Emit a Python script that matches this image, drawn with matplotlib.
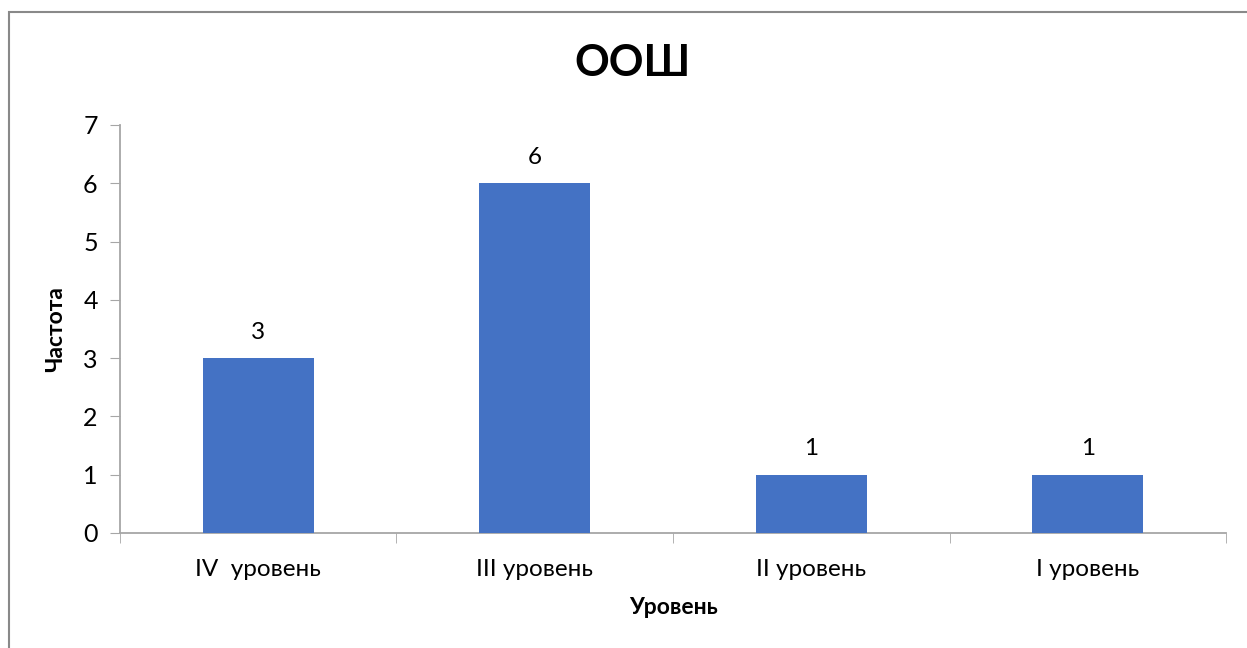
import matplotlib.pyplot as plt
import matplotlib.patches as mpatches
import numpy as np

# данные с диаграммы
levels = ['IV  уровень', 'III уровень', 'II уровень', 'I уровень']
counts = [3, 6, 1, 1]
y_ticks = [0, 1, 2, 3, 4, 5, 6, 7]

plt.rcParams['font.family'] = ['Lato', 'DejaVu Sans']

fig = plt.figure(figsize=(12.47, 6.48), dpi=100)
ax = fig.add_axes([0.0962, 0.1775, 0.887, 0.6296])

x = np.arange(len(levels))
bars = ax.bar(x, counts, width=0.4, color='#4472C4', zorder=3)

ax.set_xlim(-0.5, len(levels) - 0.5)
ax.set_ylim(0, 7)
ax.set_yticks(y_ticks)
ax.tick_params(axis='y', labelsize=18, length=7, color='#A6A6A6', pad=9)

# подписи категорий по центру, засечки между категориями
ax.set_xticks(x)
ax.set_xticklabels(levels, fontsize=17.5)
ax.tick_params(axis='x', length=0, pad=19)
ax.set_xticks(np.arange(-0.5, len(levels)), minor=True)
ax.tick_params(axis='x', which='minor', length=7, color='#A6A6A6')

for side in ['top', 'right']:
    ax.spines[side].set_visible(False)
ax.spines['left'].set_color('#A6A6A6')
ax.spines['bottom'].set_color('#A6A6A6')
ax.spines['left'].set_linewidth(1.3)
ax.spines['bottom'].set_linewidth(1.3)

for b, v in zip(bars, counts):
    ax.annotate(str(v), (b.get_x() + b.get_width() / 2, v),
                xytext=(0, 11), textcoords='offset points',
                ha='center', va='bottom', fontsize=17.5)

ax.set_xlabel('Уровень', fontsize=16.5, fontweight='bold', labelpad=12)
ax.set_ylabel('Частота', fontsize=16.5, fontweight='bold', labelpad=12)
fig.text(0.507, 0.903, 'ООШ', ha='center', va='center', fontsize=31,
         fontweight='bold')

# рамка области диаграммы
fig.patches.append(mpatches.Rectangle((8.5 / 1247, -0.1), 1.2, 1 - 12 / 648 + 0.1,
                                      transform=fig.transFigure, fill=False,
                                      edgecolor='#898989', linewidth=1.5))

fig.savefig('out.png', dpi=100)
